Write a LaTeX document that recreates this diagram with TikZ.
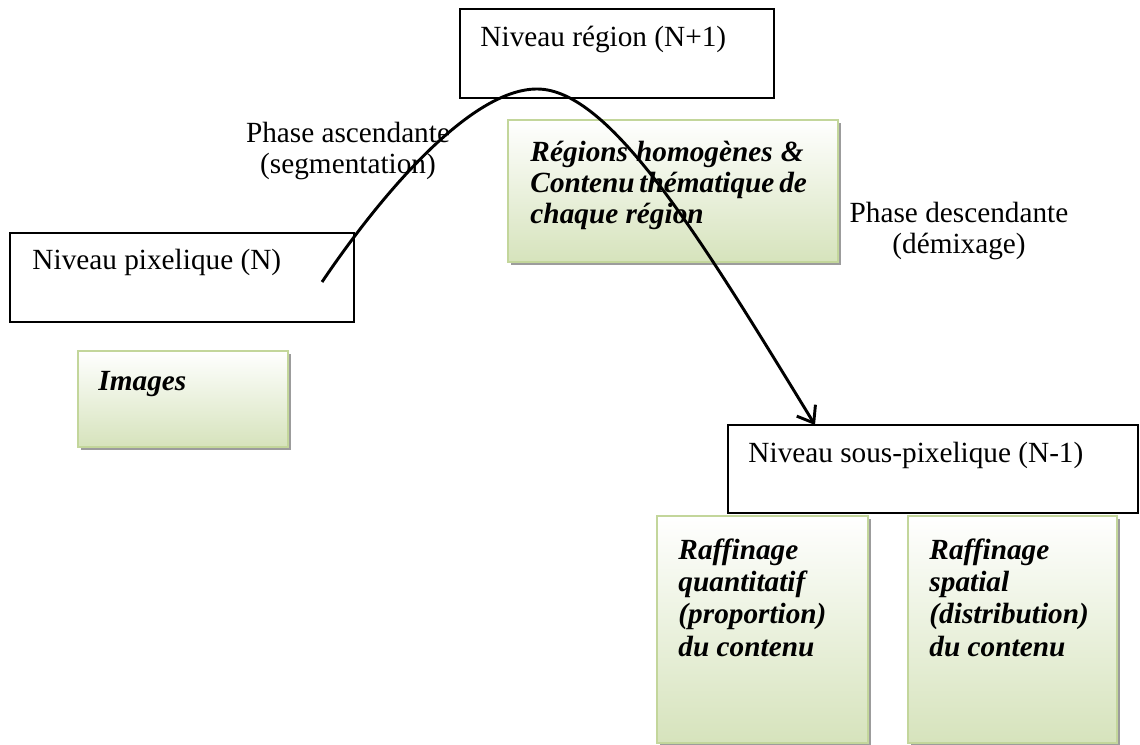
\documentclass[tikz,border=0pt]{standalone}
\usepackage{fontspec}
\setmainfont{Liberation Serif}
\usepackage{tikz}
\usetikzlibrary{arrows.meta,fit,shadows}
\definecolor{gEdge}{HTML}{C3D69B}
\definecolor{gFill}{HTML}{D6E3BC}
\definecolor{gShade}{HTML}{9C9C9C}
\tikzset{lvl/.style={draw, line width=.8pt, fill=white, inner sep=0pt}}
\tikzset{gbox/.style={draw=gEdge, line width=1.1pt, top color=white,
  bottom color=gFill, inner sep=0pt,
  drop shadow={shadow xshift=1.2pt, shadow yshift=-1.2pt, fill=gShade, opacity=1}}}
\tikzset{sweep/.style={draw, line width=1.2pt, -{Straight Barb[length=6pt,width=9pt]}}}
\newcommand{\jline}[1]{\makebox[112pt][s]{#1}}

\begin{document}
\begin{tikzpicture}[x=0.41pt, y=-0.41pt]
        \tikzstyle{lbl} = [inner sep=0pt, font=\fontsize{12}{12.6}\selectfont]
        \tikzstyle{gtxt} = [inner sep=0pt, anchor=north west, align=left,
        font=\fontsize{12}{13.3}\selectfont\bfseries\itshape]
        \useasboundingbox (0,0) rectangle (1140,745);
        %% levels
        \node (reg) [lvl, fit={(460,9) (774,98)}] {};
        \node (pix) [lvl, fit={(10,233) (354,322)}] {};
        \node (sub) [lvl, fit={(728,425) (1138,513)}] {};
        \node (regT) [lbl, anchor=base west] at (480,47) {Niveau région (N+1)};
        \node (pixT) [lbl, anchor=base west] at (32,270) {Niveau pixelique (N)};
        \node (subT) [lbl, anchor=base west] at (748,463) {Niveau sous-pixelique (N-1)};
        %% contents
        \node (img) [gbox, fit={(78,351) (288,447)}] {};
        \node (hom) [gbox, fit={(508,120) (838,262)}] {};
        \node (qty) [gbox, fit={(657,516) (868,743)}] {};
        \node (spa) [gbox, fit={(908,516) (1117,743)}] {};
        \node (imgT) [gtxt] at (98,371) {Images};
        \node (homT) [gtxt, font=\fontsize{12}{12.6}\selectfont\bfseries\itshape] at (530,141)
        {\jline{Régions homogènes \&}\\\jline{Contenu thématique de}\\chaque région};
        \node (qtyT) [gtxt] at (678,538) {Raffinage\\quantitatif\\(proportion)\\du contenu};
        \node (spaT) [gtxt] at (929,538) {Raffinage\\spatial\\(distribution)\\du contenu};
        %% phases
        \node (asc) [lbl, align=center] at (348,151) {Phase ascendante\\(segmentation)};
        \node (desc) [lbl, align=center, font=\fontsize{12}{13}\selectfont] at (959,231)
        {Phase descendante\\(démixage)};
        \coordinate (st) at (322,282);
        \coordinate (pk) at (537,89);
        \coordinate (dm) at (815,425);
        \draw [sweep] (st) .. controls (380,196) and (470,89) .. (pk)
        .. controls (610,89) and (700,237) .. (dm);
\end{tikzpicture}
\end{document}
